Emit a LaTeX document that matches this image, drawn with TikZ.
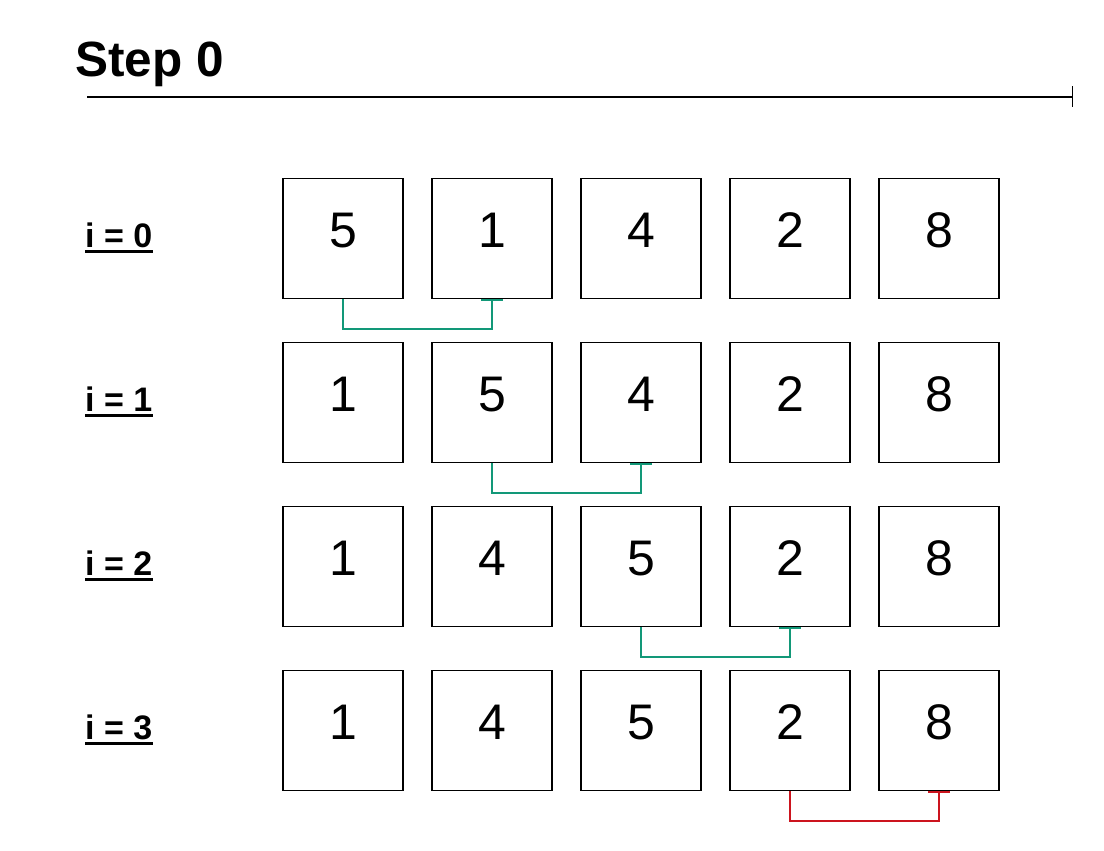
\documentclass[tikz,border=0pt]{standalone}
\usepackage{fontspec}
\setmainfont{Liberation Sans}
\usetikzlibrary{arrows.meta}
\definecolor{swapgreen}{RGB}{18,152,120}
\definecolor{swapred}{RGB}{204,20,30}
\begin{document}
\begin{tikzpicture}[x=1pt,y=-1pt,
  cell/.style={draw=black,line width=1.4pt,minimum width=120pt,minimum height=120pt,inner sep=0pt},
  num/.style={font=\fontsize{50}{50}\selectfont,inner sep=0pt},
  rowlabel/.style={font=\fontsize{34}{34}\selectfont\bfseries,inner sep=0pt,anchor=base west},
  ul/.style={line width=3pt},
  conn/.style={line width=1.5pt,arrows={-Bar[width=22pt,line width=1.5pt]}},
  greenconn/.style={conn,draw=swapgreen},
  redconn/.style={conn,draw=swapred}]
\useasboundingbox (0,0) rectangle (1104,851);
\node[font=\fontsize{49.5}{49.5}\selectfont\bfseries,inner sep=0pt,anchor=base west] (title) at (75,77) {Step 0};
\coordinate (ls) at (87,97);
\coordinate (le) at (1073,97);
\draw[line width=1.4pt,arrows={-Bar[width=21pt,line width=1.4pt]}] (ls) -- (le);
\foreach \r/\vals in {0/{5,1,4,2,8},1/{1,5,4,2,8},2/{1,4,5,2,8},3/{1,4,5,2,8}}{
  \node[rowlabel] (l\r) at (85,{247+164*\r}) {i = \r};
  \draw[ul] ([yshift=-4pt]l\r.base west) -- ([yshift=-4pt]l\r.base east);
  \foreach \v [count=\c from 0] in \vals {
    \node[cell] (b\r\c) at ({343+149*\c},{238.5+164*\r}) {};
    \node[num] (n\r\c) at ({343+149*\c},{230.5+164*\r}) {\v};
  }
}
\draw[greenconn] (b00.south) -- ++(0,30) -| (b01.south);
\draw[greenconn] (b11.south) -- ++(0,30) -| (b12.south);
\draw[greenconn] (b22.south) -- ++(0,30) -| (b23.south);
\draw[redconn] (b33.south) -- ++(0,30) -| (b34.south);
\end{tikzpicture}
\end{document}
